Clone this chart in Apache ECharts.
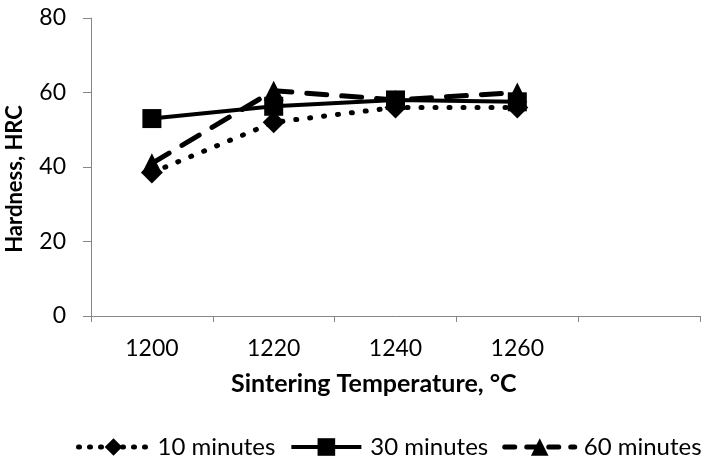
<!DOCTYPE html>
<html><head><meta charset="utf-8">
<script src="https://cdn.jsdelivr.net/npm/echarts@6/dist/echarts.min.js"></script>
<style>html,body{margin:0;padding:0;background:#fff}#c{width:707px;height:462px}</style>
</head><body><div id="c"></div>
<script>
const categories = ['1200', '1220', '1240', '1260', ''];
const min10 = [38.5, 52, 56, 56];
const min30 = [53, 56.3, 58, 57.5];
const min60 = [41, 60.5, 58, 60];
const yTicks = [0, 20, 40, 60, 80];
const seriesNames = ['10 minutes', '30 minutes', '60 minutes'];

const FONT = 'Lato, "Liberation Sans", sans-serif';
const dotted = {color: '#000', width: 5, type: [1, 13], cap: 'round'};
const solid = {color: '#000', width: 4, type: 'solid'};
const dashed = {color: '#000', width: 5, type: [20, 15], cap: 'round'};
const chart = echarts.init(document.getElementById('c'), null, {renderer: 'canvas'});
chart.setOption({
  animation: false,
  grid: {left: 91, right: 7, top: 18, bottom: 146, outerBoundsMode: 'none', containLabel: false},
  xAxis: {
    type: 'category', data: categories, boundaryGap: true,
    axisLine: {lineStyle: {color: '#868686', width: 1}},
    axisTick: {show: true, alignWithLabel: false, length: 6, lineStyle: {color: '#868686'}},
    axisLabel: {color: '#000', fontSize: 23, fontFamily: FONT, margin: 21},
    splitLine: {show: false}
  },
  yAxis: {
    type: 'value', min: yTicks[0], max: yTicks[yTicks.length - 1], interval: 20,
    name: 'Hardness, HRC', nameLocation: 'middle', nameGap: 65,
    nameTextStyle: {fontSize: 22, fontWeight: 'bold', fontFamily: FONT, color: '#000', padding: [0, 24, 0, 0]},
    axisLine: {show: true, lineStyle: {color: '#868686', width: 1}},
    axisTick: {show: true, inside: false, length: 8, lineStyle: {color: '#868686'}},
    axisLabel: {color: '#000', fontSize: 23, fontFamily: FONT, margin: 25},
    splitLine: {show: false}
  },
  graphic: [{
    type: 'text', left: 231, top: 371,
    style: {text: 'Sintering Temperature, °C', font: 'bold 25px ' + FONT, fill: '#000'}
  }],
  legend: {
    top: 435, left: 76, width: 700, padding: 0, itemWidth: 70, itemHeight: 22, itemGap: 14,
    textStyle: {fontSize: 24, fontFamily: FONT, color: '#000', padding: [0, 0, 0, 4]},
    data: [
      {name: seriesNames[0], lineStyle: {width: 5, type: [1, 10], cap: 'round'}},
      {name: seriesNames[1], lineStyle: {width: 4}},
      {name: seriesNames[2], lineStyle: {width: 5, type: [10, 12], cap: 'round'}}
    ]
  },
  series: [
    {name: seriesNames[0], type: 'line', data: min10, symbol: 'diamond', symbolSize: 22,
     lineStyle: dotted, itemStyle: {color: '#000'}, z: 3},
    {name: seriesNames[1], type: 'line', data: min30, symbol: 'rect', symbolSize: 19,
     lineStyle: solid, itemStyle: {color: '#000'}, z: 2},
    {name: seriesNames[2], type: 'line', data: min60, symbol: 'triangle', symbolSize: 20,
     lineStyle: dashed, itemStyle: {color: '#000'}, z: 4}
  ]
});
</script></body></html>
